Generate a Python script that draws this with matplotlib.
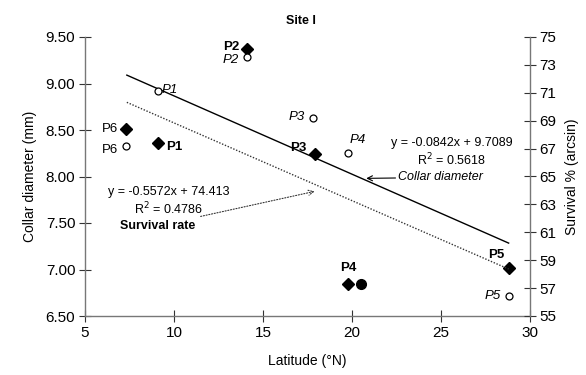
import numpy as np
import matplotlib
matplotlib.use('Agg')
import matplotlib.pyplot as plt

plt.rcParams['font.family'] = ['Liberation Sans', 'DejaVu Sans']

# sites in plot order
sites = ['P6', 'P1', 'P2', 'P3', 'P4', 'P5']

# collar diameter (mm), left axis
lat_collar = [7.3, 9.1, 14.1, 17.9, 19.8, 28.8]
collar = [8.51, 8.36, 9.37, 8.24, 6.84, 7.02]

# survival % (arcsin), right axis
lat_surv = [7.3, 9.1, 14.1, 17.8, 19.8, 28.8]
survival = [67.2, 71.1, 73.6, 69.2, 66.7, 56.4]

# extra filled dot next to P4
lat_extra = [20.5]
extra = [6.84]

# regression lines (from the printed equations)
fit_x = [7.35, 28.8]
collar_slope, collar_icpt = -0.0842, 9.7089
surv_slope, surv_icpt = -0.5572, 74.413

fig = plt.figure(figsize=(5.86, 3.75), dpi=100)
ax1 = fig.add_axes([85/586, 1 - 316/375, 445/586, 279/375])
ax2 = ax1.twinx()

ax1.set_xlim(5, 30)
ax1.set_ylim(6.5, 9.5)
ax2.set_ylim(55, 75)
ax1.set_xticks([5, 10, 15, 20, 25, 30])
ax1.set_yticks(np.arange(6.5, 9.51, 0.5))
ax1.set_yticklabels(['%.2f' % v for v in np.arange(6.5, 9.51, 0.5)])
ax2.set_yticks(np.arange(55, 76, 2))

for ax in (ax1, ax2):
    ax.spines['top'].set_visible(False)
    for s in ('left', 'right', 'bottom'):
        ax.spines[s].set_color('#777777')
        ax.spines[s].set_linewidth(1.0)
    ax.tick_params(direction='inout', length=8, width=0.8, color='#333333',
                   labelsize=11, pad=3)
ax1.spines['right'].set_visible(False)
ax2.spines['left'].set_visible(False)
ax2.spines['bottom'].set_visible(False)

fx = np.array(fit_x)
ax1.plot(fx, collar_slope * fx + collar_icpt, color='black', lw=1.0)
ax2.plot(fx, surv_slope * fx + surv_icpt, color='#333333', lw=1.0, ls=(0, (1, 1.2)))

ax1.plot(lat_collar, collar, 'D', color='black', markersize=6, zorder=5)
ax1.plot(lat_extra, extra, 'o', color='black', markersize=7, zorder=5)
ax2.plot(lat_surv, survival, 'o', mfc='white', mec='black', mew=0.9,
         markersize=5, zorder=5)

# point labels: (offset px, alignment, weight, style)
collar_lab = {
    'P6': ((-8, 0), 'right', 'normal', 'normal'),
    'P1': ((8, -4), 'left', 'bold', 'normal'),
    'P2': ((-8, 2), 'right', 'bold', 'normal'),
    'P3': ((-8, 6), 'right', 'bold', 'normal'),
    'P4': ((0, 16), 'center', 'bold', 'normal'),
    'P5': ((-4, 13), 'right', 'bold', 'normal'),
}
surv_lab = {
    'P6': ((-8, -4), 'right', 'normal', 'normal'),
    'P1': ((4, 1), 'left', 'normal', 'italic'),
    'P2': ((-8, -3), 'right', 'normal', 'italic'),
    'P3': ((-8, 1), 'right', 'normal', 'italic'),
    'P4': ((9, 13), 'center', 'normal', 'italic'),
    'P5': ((-8, 0), 'right', 'normal', 'italic'),
}
for i, s in enumerate(sites):
    off, ha, fw, st = collar_lab[s]
    ax1.annotate(s, (lat_collar[i], collar[i]), xytext=off,
                 textcoords='offset pixels', ha=ha, va='center',
                 fontsize=9.5, fontweight=fw, fontstyle=st)
    off, ha, fw, st = surv_lab[s]
    ax2.annotate(s, (lat_surv[i], survival[i]), xytext=off,
                 textcoords='offset pixels', ha=ha, va='center',
                 fontsize=9.5, fontweight=fw, fontstyle=st)

# equation boxes
ax1.text(25.6, 8.36, 'y = -0.0842x + 9.7089', ha='center', va='center', fontsize=9)
ax1.text(25.6, 8.18, 'R$^2$ = 0.5618', ha='center', va='center', fontsize=9)
ax1.annotate('Collar diameter', xy=(20.8, 7.98), xytext=(22.6, 7.99),
             ha='left', va='center', fontsize=9, fontstyle='italic',
             arrowprops=dict(arrowstyle='->', color='black', lw=0.8,
                             shrinkA=0, shrinkB=0))

ax1.text(9.7, 7.83, 'y = -0.5572x + 74.413', ha='center', va='center', fontsize=9)
ax1.text(9.7, 7.65, 'R$^2$ = 0.4786', ha='center', va='center', fontsize=9)
ax1.annotate('Survival rate', xy=(17.9, 7.84), xytext=(9.1, 7.47),
             ha='center', va='center', fontsize=9, fontweight='bold',
             arrowprops=dict(arrowstyle='->', color='#333333', lw=0.8,
                             ls=(0, (1, 1.5)), shrinkA=2, shrinkB=0))

ax1.set_title('Site I', fontsize=9, fontweight='bold', pad=9, x=0.485)
ax1.set_xlabel('Latitude (\u00b0N)', fontsize=10, labelpad=10)
ax1.set_ylabel('Collar diameter (mm)', fontsize=10, labelpad=6)
ax2.set_ylabel('Survival % (arcsin)', fontsize=10, labelpad=6)

fig.savefig('out.png', dpi=100)
